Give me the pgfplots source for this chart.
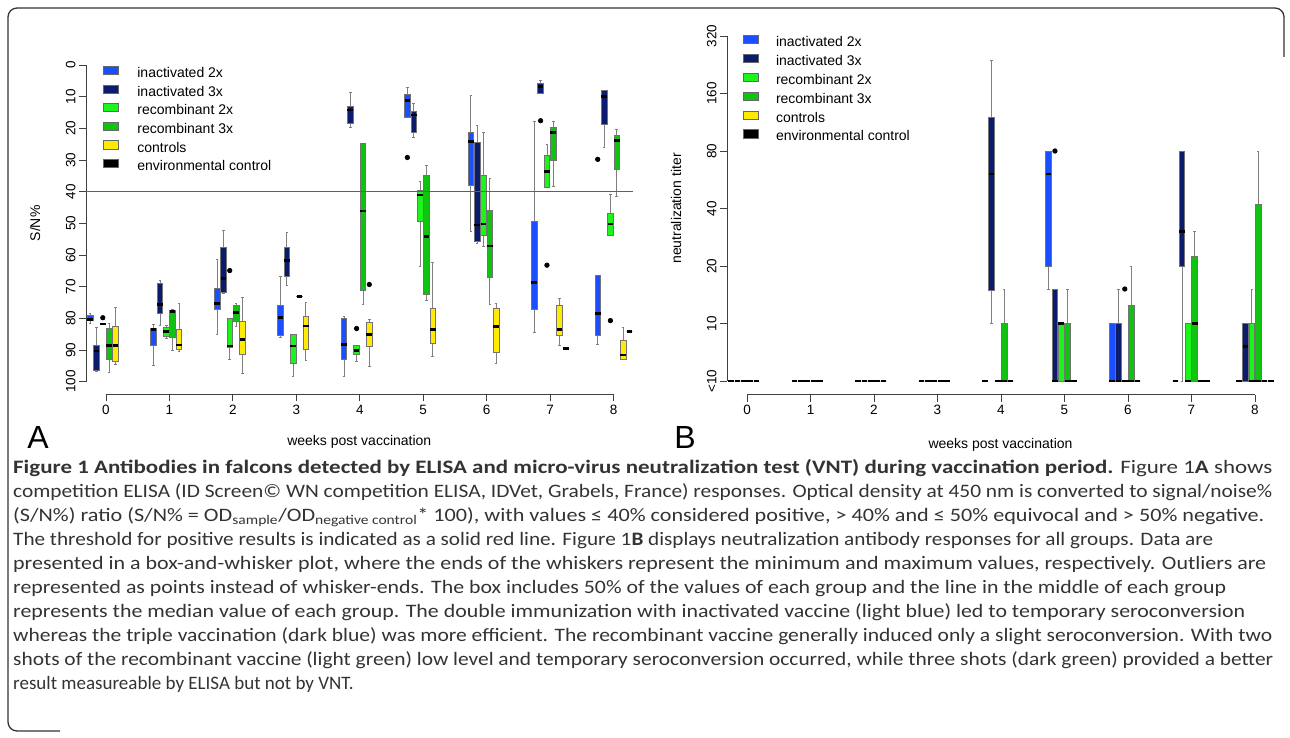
\documentclass[border=0pt]{standalone}
\usepackage{fontspec}
\setmainfont{Liberation Sans}
\newfontfamily\capfont{Carlito}
\usepackage{graphicx}
\usepackage{pgfplots}
\usepgfplotslibrary{statistics}
\pgfplotsset{compat=1.18}

\definecolor{ibA}{HTML}{1A4FFF}
\definecolor{ibB}{HTML}{0B1B6E}
\definecolor{rcA}{HTML}{1CF51C}
\definecolor{rcB}{HTML}{10C310}
\definecolor{ctl}{HTML}{FFEB00}
\definecolor{envc}{HTML}{000000}
\definecolor{thr}{rgb}{0.98,0.12,0.12}

% box: colour, position, lower whisker, lower quartile, median, upper quartile, upper whisker, outliers
\newcommand{\bxo}[8]{\addplot[draw=black!50, line width=0.8pt, mark=*, mark size=2.2pt,
  mark options={draw=black, fill=black, solid},
  boxplot/draw direction=y,
  boxplot/box extend=0.09, boxplot/whisker extend=0.04,
  boxplot/every box/.style={draw=black!55, fill=#1, line width=0.7pt},
  boxplot/every whisker/.style={draw=black!50, line width=0.8pt},
  boxplot/every median/.style={draw=black, line width=2.6pt},
  boxplot prepared={draw position=#2, lower whisker=#3, lower quartile=#4,
    median=#5, upper quartile=#6, upper whisker=#7}] coordinates {#8};}
\newcommand{\bx}[7]{\bxo{#1}{#2}{#3}{#4}{#5}{#6}{#7}{}}

\newcommand{\capline}[3]{\node[anchor=base west, inner sep=0pt, text=black!80] at (13pt,#1)
  {\capfont\fontsize{19}{24}\selectfont\resizebox{#2}{\height}{#3}};}

\pgfplotsset{
  rstyle/.style={
    scale only axis, clip=false,
    axis x line*=bottom, axis y line*=left, axis line style={draw=none},
    xmin=-0.315, xmax=8.3,
    xtick={0,...,8}, xticklabels={0,1,2,3,4,5,6,7,8},
    tick align=outside, major tick length=7pt,
    tick style={black!75, line width=0.8pt},
    tick label style={font=\fontsize{13.5}{14}\selectfont},
    yticklabel style={rotate=90, anchor=south},
    label style={font=\fontsize{14}{16}\selectfont},
    xlabel={weeks post vaccination},
    legend cell align=left,
    legend image code/.code={\draw[##1] (0pt,1.7pt) rectangle (15pt,10pt);},
  }
}

\begin{document}
\begin{tikzpicture}[x=1pt,y=1pt]
\useasboundingbox (0,0) rectangle (1290,737);

% frame
\draw[black!80, line width=1.3pt, rounded corners=9pt] (1284,680) -- (1284,729) -- (8,729) -- (8,6) -- (60,6);

% ---------------- Panel A ----------------
\begin{axis}[rstyle,
  at={(86pt,342.6pt)}, anchor=south west, width=546.6pt, height=342.1pt,
  ymin=-4, ymax=104, y dir=reverse,
  ytick={0,10,...,100}, yticklabels={0,10,20,30,40,50,60,70,80,90,100},
  ylabel={S/N\%},
  xlabel style={at={(axis description cs:0.5,-0.139)}, anchor=center},
  ylabel style={at={(axis description cs:-0.0933,0.5)}, anchor=center},
  legend style={draw=none, fill=none, at={(axis description cs:0.032,0.96)}, anchor=north west,
    inner sep=0pt, outer sep=0pt, row sep=0pt, /tikz/column sep=18.5pt,
    font=\fontsize{14}{16}\selectfont, nodes={inner sep=0pt, text height=10pt, text depth=6.8pt}},
]
\addlegendimage{draw=black!60, fill=ibA}\addlegendentry{inactivated 2x}
\addlegendimage{draw=black!60, fill=ibB}\addlegendentry{inactivated 3x}
\addlegendimage{draw=black!60, fill=rcA}\addlegendentry{recombinant 2x}
\addlegendimage{draw=black!60, fill=rcB}\addlegendentry{recombinant 3x}
\addlegendimage{draw=black!60, fill=ctl}\addlegendentry{controls}
\addlegendimage{draw=black!60, fill=envc}\addlegendentry{environmental control}

% week 0
\bx{ibA}{-0.25}{78.5}{79}{80.3}{80.7}{81.5}
\bx{ibB}{-0.15}{83}{88.4}{90.3}{96.3}{96.6}
\bxo{rcA}{-0.05}{81.6}{81.7}{81.8}{82}{82}{(0,79.8)}
\bx{rcB}{0.05}{81.6}{83.2}{88.6}{93}{97.2}
\bx{ctl}{0.15}{76.6}{82.4}{88.6}{93.5}{94.4}
% week 1
\bx{ibA}{0.75}{81.8}{83}{83.5}{88.4}{94.7}
\bx{ibB}{0.85}{67.9}{68.9}{75.6}{78.4}{82.3}
\bx{rcA}{0.95}{82.3}{82.9}{84.2}{85.6}{86.4}
\bx{rcB}{1.05}{77.1}{77.4}{77.9}{86}{90}
\bx{ctl}{1.15}{75.3}{83.5}{88.4}{89.7}{90.5}
% week 2
\bx{ibA}{1.75}{61.4}{70.5}{75.3}{77.1}{85}
\bx{ibB}{1.85}{52.1}{57.6}{67.4}{71.9}{72.1}
\bxo{rcA}{1.95}{80}{80}{88.7}{89}{93}{(0,64.9)}
\bx{rcB}{2.05}{75.3}{75.8}{78.1}{81}{82.4}
\bx{ctl}{2.15}{73.4}{81}{86.6}{91.3}{97.4}
% week 3
\bx{ibA}{2.75}{66.8}{76}{79.7}{85.5}{86}
\bx{ibB}{2.85}{52.8}{57.6}{61.8}{66.6}{69.5}
\bx{rcA}{2.95}{85}{85}{88.7}{94.2}{98.2}
\bx{rcB}{3.05}{72.9}{73}{73.1}{73.2}{73.3}
\bx{ctl}{3.15}{75}{79.5}{82.4}{89.8}{93.2}
% week 4
\bx{ibA}{3.75}{79.5}{80}{88.2}{93}{98.2}
\bx{ibB}{3.85}{8.7}{13.2}{14.2}{18.4}{19.7}
\bxo{rcA}{3.95}{88.6}{88.6}{90.2}{91.3}{93.7}{(0,83.2)}
\bx{rcB}{4.05}{24.7}{24.7}{46.1}{71.3}{75.5}
\bxo{ctl}{4.15}{80.3}{81.4}{85}{88.7}{95.3}{(0,69.3)}
% week 5
\bxo{ibA}{4.75}{7.1}{9.3}{11.3}{16.6}{16.6}{(0,29.2)}
\bx{ibB}{4.85}{12.1}{14.5}{15.8}{21.4}{22.8}
\bx{rcA}{4.95}{36.8}{39.7}{41.1}{49.3}{63.5}
\bx{rcB}{5.05}{31.6}{34.7}{54.2}{72.3}{74.2}
\bx{ctl}{5.15}{62.3}{76.8}{83.5}{87.9}{92.1}
% week 6
\bx{ibA}{5.75}{9.7}{21.4}{24.2}{37.9}{52.6}
\bx{ibB}{5.85}{19.2}{24.4}{50.5}{55.8}{56.3}
\bx{rcA}{5.95}{21.4}{34.7}{50.2}{53.7}{57.2}
\bx{rcB}{6.05}{35.8}{46}{57.2}{67.2}{75.5}
\bx{ctl}{6.15}{75.3}{76.8}{82.6}{90.7}{94.2}
% week 7
\bx{ibA}{6.75}{17.7}{49.3}{68.7}{77.2}{84.5}
\bxo{ibB}{6.85}{4.9}{5.8}{6.8}{8.9}{8.9}{(0,17.6)}
\bxo{rcA}{6.95}{25.1}{28.4}{33.7}{38.6}{38.6}{(0,63.2)}
\bx{rcB}{7.05}{17.9}{19.7}{21.4}{30}{38.4}
\bx{ctl}{7.15}{73.7}{76}{83.5}{85.3}{88.6}
\bx{envc}{7.25}{89.5}{89.5}{89.5}{89.5}{89.5}
% week 8
\bxo{ibA}{7.75}{66.5}{66.5}{78.4}{85.3}{88.2}{(0,29.8)}
\bx{ibB}{7.85}{7.9}{7.9}{10}{18.9}{26.1}
\bxo{rcA}{7.95}{40.8}{47}{50.2}{53.9}{53.9}{(0,80.7)}
\bx{rcB}{8.05}{20.3}{22.1}{23.9}{32.8}{41.6}
\bx{ctl}{8.15}{82.8}{87}{91.6}{93}{93}
\bx{envc}{8.25}{84.2}{84.2}{84.2}{84.2}{84.2}

\draw[black!75, line width=0.8pt] (axis cs:0,104) -- (axis cs:8,104);
\draw[black!75, line width=0.8pt] (axis cs:-0.315,0) -- (axis cs:-0.315,100);
\end{axis}

% positivity threshold (S/N% = 40) in an overlay axis with the same geometry as panel A
\begin{axis}[at={(86pt,342.6pt)}, anchor=south west, scale only axis, width=546.6pt, height=342.1pt,
  xmin=-0.315, xmax=8.3, ymin=-4, ymax=104, y dir=reverse, hide axis, clip=false]
\addplot[color=thr, line width=1.5pt, mark=none] coordinates {(-0.315,40) (8.3,40)};
\end{axis}

% ---------------- Panel B ----------------
\begin{axis}[rstyle,
  at={(727pt,342.2pt)}, anchor=south west, width=547pt, height=372.6pt,
  ymin=-0.24, ymax=6.24,
  ytick={0,...,6}, yticklabels={<10,10,20,40,80,160,320},
  ylabel={neutralization titer},
  xlabel style={at={(axis description cs:0.5,-0.135)}, anchor=center},
  ylabel style={at={(axis description cs:-0.0932,0.5)}, anchor=center},
  legend style={draw=none, fill=none, at={(axis description cs:0.0298,0.9657)}, anchor=north west,
    inner sep=0pt, outer sep=0pt, row sep=0pt, /tikz/column sep=17.3pt,
    font=\fontsize{14}{16}\selectfont, nodes={inner sep=0pt, text height=10pt, text depth=7.4pt}},
]
\addlegendimage{draw=black!60, fill=ibA}\addlegendentry{inactivated 2x}
\addlegendimage{draw=black!60, fill=ibB}\addlegendentry{inactivated 3x}
\addlegendimage{draw=black!60, fill=rcA}\addlegendentry{recombinant 2x}
\addlegendimage{draw=black!60, fill=rcB}\addlegendentry{recombinant 3x}
\addlegendimage{draw=black!60, fill=ctl}\addlegendentry{controls}
\addlegendimage{draw=black!60, fill=envc}\addlegendentry{environmental control}

% weeks 0-3 (all below 10)
\bx{ibA}{-0.25}{0}{0}{0}{0}{0}
\bx{ibB}{-0.15}{0}{0}{0}{0}{0}
\bx{rcA}{-0.05}{0}{0}{0}{0}{0}
\bx{rcB}{0.05}{0}{0}{0}{0}{0}
\bx{ctl}{0.15}{0}{0}{0}{0}{0}
\bx{ibA}{0.75}{0}{0}{0}{0}{0}
\bx{ibB}{0.85}{0}{0}{0}{0}{0}
\bx{rcA}{0.95}{0}{0}{0}{0}{0}
\bx{rcB}{1.05}{0}{0}{0}{0}{0}
\bx{ctl}{1.15}{0}{0}{0}{0}{0}
\bx{ibA}{1.75}{0}{0}{0}{0}{0}
\bx{ibB}{1.85}{0}{0}{0}{0}{0}
\bx{rcA}{1.95}{0}{0}{0}{0}{0}
\bx{rcB}{2.05}{0}{0}{0}{0}{0}
\bx{ctl}{2.15}{0}{0}{0}{0}{0}
\bx{ibA}{2.75}{0}{0}{0}{0}{0}
\bx{ibB}{2.85}{0}{0}{0}{0}{0}
\bx{rcA}{2.95}{0}{0}{0}{0}{0}
\bx{rcB}{3.05}{0}{0}{0}{0}{0}
\bx{ctl}{3.15}{0}{0}{0}{0}{0}
% week 4
\bx{ibA}{3.75}{0}{0}{0}{0}{0}
\bx{ibB}{3.85}{1.0}{1.58}{3.6}{4.59}{5.58}
\bx{rcA}{3.95}{0}{0}{0}{0}{0}
\bx{rcB}{4.05}{0}{0}{0}{1}{1.6}
\bx{ctl}{4.15}{0}{0}{0}{0}{0}
% week 5
\bx{ibA}{4.75}{1.6}{2}{3.6}{4}{4}
\bxo{ibB}{4.85}{0}{0}{0}{1.6}{1.6}{(0,4.0)}
\bx{rcA}{4.95}{0}{0}{1}{1}{1}
\bx{rcB}{5.05}{0}{0}{0}{1}{1.6}
\bx{ctl}{5.15}{0}{0}{0}{0}{0}
% week 6
\bx{ibA}{5.75}{0}{0}{0}{1}{1}
\bx{ibB}{5.85}{0}{0}{0}{1}{1.6}
\bxo{rcA}{5.95}{0}{0}{0}{0}{0}{(0,1.6)}
\bx{rcB}{6.05}{0}{0}{0}{1.32}{2.0}
\bx{ctl}{6.15}{0}{0}{0}{0}{0}
% week 7
\bx{ibA}{6.75}{0}{0}{0}{0}{0}
\bx{ibB}{6.85}{0}{2}{2.6}{4}{4}
\bx{rcA}{6.95}{0}{0}{0}{1}{1}
\bx{rcB}{7.05}{0}{0}{1}{2.17}{2.6}
\bx{ctl}{7.15}{0}{0}{0}{0}{0}
\bx{envc}{7.25}{0}{0}{0}{0}{0}
% week 8
\bx{ibA}{7.75}{0}{0}{0}{0}{0}
\bx{ibB}{7.85}{0}{0}{0.6}{1}{1}
\bx{rcA}{7.95}{0}{0}{0}{1}{1.6}
\bx{rcB}{8.05}{0}{0}{0}{3.08}{4}
\bx{ctl}{8.15}{0}{0}{0}{0}{0}
\bx{envc}{8.25}{0}{0}{0}{0}{0}

\draw[black!75, line width=0.8pt] (axis cs:0,-0.24) -- (axis cs:8,-0.24);
\draw[black!75, line width=0.8pt] (axis cs:-0.315,0) -- (axis cs:-0.315,6);
\end{axis}

% panel letters
\node[font=\fontsize{32}{32}\selectfont] at (38,300) {A};
\node[font=\fontsize{32}{32}\selectfont] at (685,300) {B};

% caption
\capline{264}{1259pt}{{\bfseries Figure 1 Antibodies in falcons detected by ELISA and micro-virus neutralization test (VNT) during vaccination period.} Figure 1{\bfseries A} shows}
\capline{240}{1259pt}{competition ELISA (ID Screen© WN competition ELISA, IDVet, Grabels, France) responses. Optical density at 450 nm is converted to signal/noise\%}
\capline{216}{1251pt}{(S/N\%) ratio (S/N\% = OD\textsubscript{sample}/OD\textsubscript{negative control}* 100), with values ≤ 40\% considered positive, > 40\% and ≤ 50\% equivocal and > 50\% negative.}
\capline{192}{1200pt}{The threshold for positive results is indicated as a solid red line. Figure 1{\bfseries B} displays neutralization antibody responses for all groups. Data are}
\capline{168}{1253pt}{presented in a box-and-whisker plot, where the ends of the whiskers represent the minimum and maximum values, respectively. Outliers are}
\capline{144}{1213pt}{represented as points instead of whisker-ends. The box includes 50\% of the values of each group and the line in the middle of each group}
\capline{120}{1232pt}{represents the median value of each group. The double immunization with inactivated vaccine (light blue) led to temporary seroconversion}
\capline{96}{1259pt}{whereas the triple vaccination (dark blue) was more efficient. The recombinant vaccine generally induced only a slight seroconversion. With two}
\capline{72}{1260pt}{shots of the recombinant vaccine (light green) low level and temporary seroconversion occurred, while three shots (dark green) provided a better}
\node[anchor=base west, inner sep=0pt, text=black!80] at (13pt,48) {\capfont\fontsize{19}{24}\selectfont result measureable by ELISA but not by VNT.};
\end{tikzpicture}
\end{document}
